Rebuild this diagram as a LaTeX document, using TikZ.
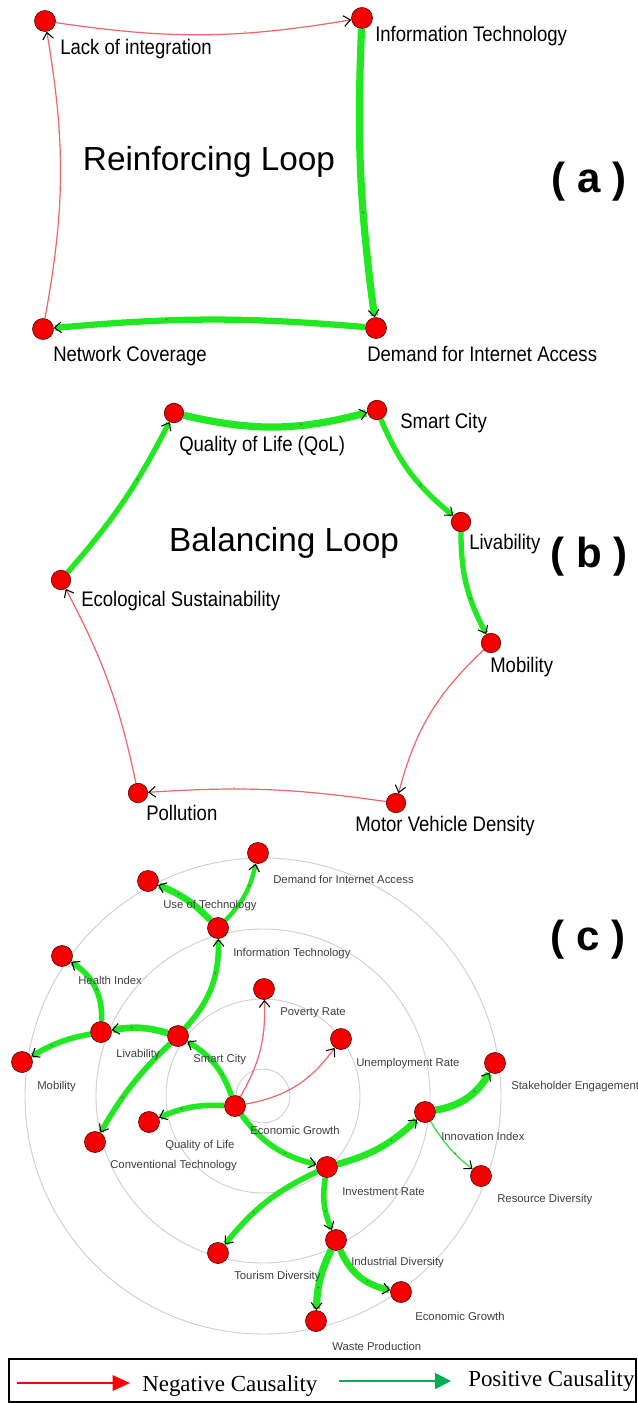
\documentclass[tikz,border=0pt]{standalone}
\usepackage{fontspec}
\setmainfont{Liberation Sans}
\newfontfamily\narrowfont[FakeStretch=0.88]{Liberation Sans}
\newfontfamily\serifleg{Liberation Serif}
\usetikzlibrary{arrows.meta}
\pgfdeclarelayer{bg}
\pgfsetlayers{bg,main}
\definecolor{nodered}{RGB}{245,0,0}
\definecolor{nodeedge}{RGB}{90,10,10}
\definecolor{posgreen}{RGB}{34,232,34}
\definecolor{thingreen}{RGB}{70,225,70}
\definecolor{neglight}{RGB}{242,100,100}
\definecolor{labgray}{RGB}{62,62,74}
\definecolor{ringgray}{RGB}{208,208,208}
\definecolor{legred}{RGB}{255,0,0}
\definecolor{leggreen}{RGB}{0,176,80}
\tikzset{
  vert/.style={circle, fill=nodered, draw=nodeedge, line width=0.5pt, minimum size=15.75pt, inner sep=0pt},
  vertb/.style={vert, minimum size=14.6pt},
  lab/.style={anchor=west, inner sep=0pt, font=\narrowfont\fontsize{15.8}{18}\selectfont},
  labc/.style={anchor=west, inner sep=0pt, text=labgray, font=\fontsize{8.5}{10}\selectfont},
  barb/.style={-{Straight Barb[color=black,length=5pt,width=8pt,line width=0.8pt]}},
  pe/.style={draw=posgreen, barb},
  ne/.style={draw=neglight, line width=0.9pt, barb},
  mk/.style={pos=0.65, inner sep=0pt, text=black!70, font=\fontsize{4}{4}\selectfont},
  ring/.style={draw=ringgray, line width=0.7pt},
  bigt/.style={font=\fontsize{25}{30}\selectfont},
  part/.style={font=\bfseries\fontsize{31.5}{36}\selectfont},
  legt/.style={anchor=west, inner sep=0pt, font=\serifleg\fontsize{17.2}{20}\selectfont},
}
\begin{document}
\begin{tikzpicture}[x=0.75pt,y=-0.75pt]
\useasboundingbox (0,0) rectangle (638,1403);

% ================= (a) =================
\node[vert] (lack) at (45,21) {};
\node[vert] (it) at (362,18) {};
\node[vert] (dem) at (376,328) {};
\node[vert] (nc) at (43,329) {};
\node[lab] (lackl) at (60,49) {Lack of integration};
\node[lab] (itl) at (375,36) {Information Technology};
\node[lab] (deml) at (367,354) {Demand for Internet Access};
\node[lab] (ncl) at (53,356) {Network Coverage};
\node[bigt] (rl) at (209,162) {Reinforcing Loop};
\node[part] (pa) at (589,182) {( a )};
\begin{pgfonlayer}{bg}
\draw[ne] (lack) to[bend right=9] node[mk]{-} (it);
\draw[pe, line width=5.4pt] (it) to[bend right=5] node[mk]{+} (dem);
\draw[pe, line width=4.7pt] (dem) to[bend right=5] node[mk]{+} (nc);
\draw[ne] (nc) to[bend right=10] node[mk]{-} (lack);
\end{pgfonlayer}

% ================= (b) =================
\node[vertb] (qol) at (174,413) {};
\node[vertb] (sc) at (377,410) {};
\node[vertb] (liv) at (461,522) {};
\node[vertb] (mob) at (491,643) {};
\node[vertb] (mvd) at (396,803) {};
\node[vertb] (pol) at (138,793) {};
\node[vertb] (eco) at (61,580) {};
\node[lab] (qoll) at (179,446) {Quality of Life (QoL)};
\node[lab] (scl) at (400,423) {Smart City};
\node[lab] (livl) at (469,544) {Livability};
\node[lab] (mobl) at (490,667) {Mobility};
\node[lab] (mvdl) at (355,826) {Motor Vehicle Density};
\node[lab] (poll) at (146,813) {Pollution};
\node[lab] (ecol) at (81,601) {Ecological Sustainability};
\node[bigt] (bl) at (284,543) {Balancing Loop};
\node[part] (pb) at (589,557) {( b )};
\begin{pgfonlayer}{bg}
\draw[pe, line width=5.4pt] (qol) to[bend right=14] node[mk]{+} (sc);
\draw[pe, line width=4pt] (sc) to[bend right=14] node[mk]{+} (liv);
\draw[pe, line width=4pt] (liv) to[bend right=14] node[mk]{+} (mob);
\draw[ne] (mob) to[bend right=16] node[mk]{-} (mvd);
\draw[ne] (mvd) to[bend right=6] node[mk]{-} (pol);
\draw[ne] (pol) to[bend right=8] node[mk]{-} (eco);
\draw[pe, line width=4pt] (eco) to[bend right=7] node[mk]{+} (qol);
\end{pgfonlayer}

% ================= (c) =================
\coordinate (cc) at (263,1096);
\begin{pgfonlayer}{bg}
\draw[ring] (cc) circle[radius=27];
\draw[ring] (cc) circle[radius=97];
\draw[ring] (cc) circle[radius=167];
\draw[ring] (cc) circle[radius=238];
\end{pgfonlayer}
\node[vert] (dia) at (258,853) {};
\node[vert] (uot) at (148,881) {};
\node[vert] (itc) at (218,928) {};
\node[vert] (hi) at (62,956) {};
\node[vert] (pr) at (264,989) {};
\node[vert] (ur) at (341,1039) {};
\node[vert] (livc) at (101,1032) {};
\node[vert] (scc) at (178,1036) {};
\node[vert] (mobc) at (22,1062) {};
\node[vert] (se) at (495,1063) {};
\node[vert] (eg) at (235,1106) {};
\node[vert] (qolc) at (149,1122) {};
\node[vert] (ii) at (425,1112) {};
\node[vert] (ct) at (95,1142) {};
\node[vert] (ir) at (327,1167) {};
\node[vert] (rd) at (481,1176) {};
\node[vert] (td) at (218,1253) {};
\node[vert] (ind) at (336,1240) {};
\node[vert] (eg2) at (401,1292) {};
\node[vert] (wp) at (316,1321) {};

\node[labc] (dial) at (273,879) {Demand for Internet Access};
\node[labc] (uotl) at (163,906) {Use of Technology};
\node[labc] (itcl) at (233,954) {Information Technology};
\node[labc] (hil) at (78,980) {Health Index};
\node[labc] (prl) at (280,1013) {Poverty Rate};
\node[labc] (url) at (356,1064) {Unemployment Rate};
\node[labc] (livcl) at (116,1055) {Livability};
\node[labc] (sccl) at (193,1060) {Smart City};
\node[labc] (mobcl) at (37,1087) {Mobility};
\node[labc] (sel) at (511,1087) {Stakeholder Engagement};
\node[labc] (egl) at (250,1130) {Economic Growth};
\node[labc] (qolcl) at (165,1146) {Quality of Life};
\node[labc] (iil) at (441,1136) {Innovation Index};
\node[labc] (ctl) at (110,1166) {Conventional Technology};
\node[labc] (irl) at (342,1192) {Investment Rate};
\node[labc] (rdl) at (497,1200) {Resource Diversity};
\node[labc] (tdl) at (234,1277) {Tourism Diversity};
\node[labc] (indl) at (351,1263) {Industrial Diversity};
\node[labc] (eg2l) at (415,1316) {Economic Growth};
\node[labc] (wpl) at (332,1346) {Waste Production};
\node[part] (pc) at (588,940) {( c )};

\begin{pgfonlayer}{bg}
\draw[pe, line width=3.3pt] (itc) to[bend right=16] node[mk]{+} (dia);
\draw[pe, line width=5pt] (itc) to[bend right=12] node[mk]{+} (uot);
\draw[pe, line width=4.2pt] (scc) to[bend right=22] node[mk]{+} (itc);
\draw[pe, line width=5pt] (scc) to[bend right=13] node[mk]{+} (livc);
\draw[pe, line width=4.2pt] (livc) to[bend right=30] node[mk, pos=0.45]{+} (hi);
\draw[pe, line width=4.2pt] (livc) to[bend right=10] node[mk]{+} (mobc);
\draw[pe, line width=4.2pt] (eg) to[bend right=20] node[mk, pos=0.3]{+} (scc);
\draw[pe, line width=4.2pt] (scc) to[bend right=8] node[mk]{+} (ct);
\draw[pe, line width=4.2pt] (eg) to[bend right=13] node[mk]{+} (qolc);
\draw[ne] (eg) to[bend right=16] node[mk]{-} (pr);
\draw[ne] (eg) to[bend right=22] node[mk]{-} (ur);
\draw[pe, line width=4.2pt] (eg) to[bend right=20] node[mk]{+} (ir);
\draw[pe, line width=5pt] (ir) to[bend right=14] node[mk]{+} (ii);
\draw[pe, line width=5.4pt] (ii) to[bend right=25] node[mk]{+} (se);
\draw[draw=thingreen, line width=1.1pt, barb] (ii) to[bend right=10] node[mk]{+} (rd);
\draw[pe, line width=4.2pt] (ir) to[bend right=13] node[mk]{+} (td);
\draw[pe, line width=4.2pt] (ir) to[bend right=16] node[mk]{+} (ind);
\draw[pe, line width=5.4pt] (ind) to[bend right=12] node[mk]{+} (wp);
\draw[pe, line width=5pt] (ind) to[bend right=28] node[mk]{+} (eg2);
\end{pgfonlayer}

% ================= legend =================
\draw[line width=1.1pt] (9,1359) rectangle (636,1402);
\coordinate (r1) at (17,1383);
\coordinate (r2) at (130,1383);
\coordinate (g1) at (339,1381);
\coordinate (g2) at (451,1381);
\draw[legred, line width=1.5pt, -{Triangle[length=13pt,width=11.5pt]}] (r1) -- (r2);
\draw[leggreen, line width=1.5pt, -{Triangle[length=12pt,width=12pt]}] (g1) -- (g2);
\node[legt] (negt) at (142,1386) {Negative Causality};
\node[legt] (post) at (468,1381) {Positive Causality};
\end{tikzpicture}
\end{document}
